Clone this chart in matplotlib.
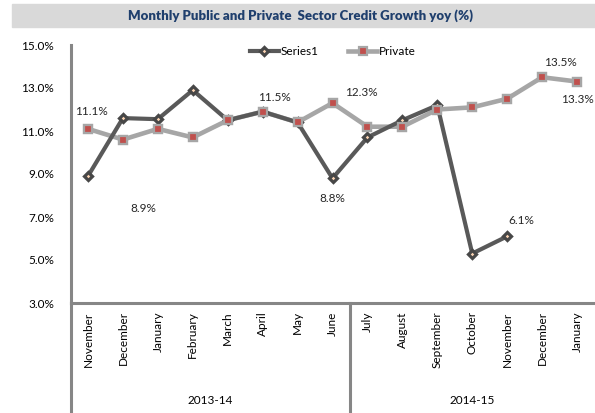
import matplotlib
matplotlib.use('Agg')
import matplotlib.pyplot as plt
from matplotlib.patches import Rectangle

plt.rcParams['font.family'] = ['Lato', 'DejaVu Sans']

months = ['November', 'December', 'January', 'February', 'March', 'April', 'May', 'June',
          'July', 'August', 'September', 'October', 'November', 'December', 'January']
years = ['2013-14', '2014-15']
year_sizes = [8, 7]

series1 = [8.9, 11.6, 11.55, 12.9, 11.5, 11.9, 11.4, 8.8, 10.7, 11.5, 12.2, 5.3, 6.1]
private = [11.1, 10.6, 11.1, 10.7, 11.5, 11.9, 11.4, 12.3, 11.2, 11.2, 12.0, 12.1, 12.5, 13.5, 13.3]

# data labels: (series, index, text, dx px, dy px)
labels = [
    ('p', 0, '11.1%', 3, 17),
    ('s', 0, '8.9%', 55, -32),
    ('p', 5, '11.5%', 12, 14),
    ('s', 7, '8.8%', 0, -20),
    ('p', 7, '12.3%', 29, 11),
    ('s', 12, '6.1%', 14, 16),
    ('p', 13, '13.5%', 18, 15),
    ('p', 14, '13.3%', 0, -18),
]

fig = plt.figure(figsize=(5.95, 4.13), dpi=100)
ax = fig.add_axes([70.5 / 595, 1 - 303 / 413, 524 / 595, 258 / 413])

# title band
fig.patches.append(Rectangle((12 / 595, 1 - 27 / 413), 583 / 595, 23 / 413,
                             transform=fig.transFigure, color='#d9d9d9', zorder=0))
fig.text(0.505, 1 - 16 / 413, 'Monthly Public and Private  Sector Credit Growth yoy (%)',
         ha='center', va='center', fontsize=9.5, fontweight='heavy', color='#1f3f6d')

x1 = list(range(len(series1)))
xp = list(range(len(private)))
ax.plot(x1, series1, color='#595959', lw=3, marker='D', ms=4.2, mfc='#fcd5b4',
        mec='#474747', mew=2.3, label='Series1', zorder=3)
ax.plot(xp, private, color='#a6a6a6', lw=3.3, marker='s', ms=6, mfc='#c0504d',
        mec='#a6a6a6', mew=1.6, label='Private', zorder=2)
# private markers sit above the dark line
ax.plot(xp, private, ls='none', marker='s', ms=6, mfc='#c0504d',
        mec='#a6a6a6', mew=1.6, zorder=4)

for ser, i, txt, dx, dy in labels:
    yv = series1[i] if ser == 's' else private[i]
    ax.annotate(txt, (i, yv), xytext=(dx, dy), textcoords='offset pixels',
                ha='center', va='center', fontsize=8.5, color='#262626')

ax.set_xlim(-0.5, len(months) - 0.5)
ax.set_ylim(3, 15)
ax.set_yticks([3, 5, 7, 9, 11, 13, 15])
ax.set_yticklabels(['%.1f%%' % v for v in [3, 5, 7, 9, 11, 13, 15]], fontsize=8.5)
ax.set_xticks(xp)
ax.set_xticklabels(months, rotation=90, fontsize=8.5)
ax.tick_params(length=0, pad=6)
ax.tick_params(axis='y', pad=12)

for s in ['top', 'right']:
    ax.spines[s].set_visible(False)
for s in ['left', 'bottom']:
    ax.spines[s].set_color('#868686')
    ax.spines[s].set_linewidth(2.2)

# category group separators below the axis
ylo = -110 / 258
start = -0.5
for name, n in zip(years, year_sizes):
    ax.plot([start, start], [ylo, 0], transform=ax.get_xaxis_transform(),
            color='#868686', lw=2.2, clip_on=False)
    ax.text(start + n / 2, -97 / 258, name, transform=ax.get_xaxis_transform(),
            ha='center', va='center', fontsize=8.5)
    start += n

leg = ax.legend(loc='center', bbox_to_anchor=(0.5, 0.973), ncol=2, frameon=False,
                fontsize=8.5, handlelength=2.5, columnspacing=2.5, handletextpad=0.1)

fig.savefig('out.png', dpi=100)
